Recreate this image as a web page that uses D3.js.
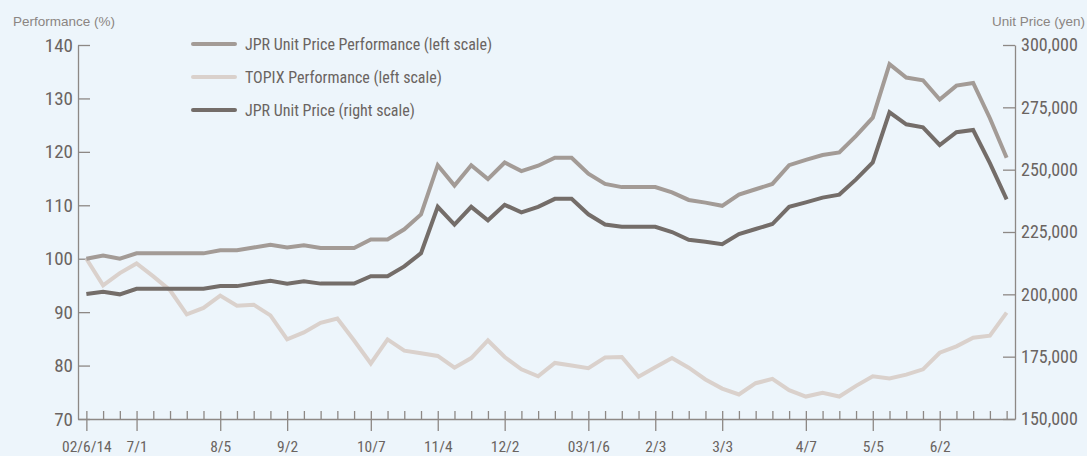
<!DOCTYPE html>
<html>
<head>
<meta charset="utf-8">
<title>JPR Unit Price Performance</title>
<script src="https://d3js.org/d3.v7.min.js"></script>
<style>
  body { margin: 0; background: #edf5fb; }
  svg { display: block; background: #edf5fb; }
  .narrow { font-family: "Liberation Sans Narrow", "Roboto Condensed", "DejaVu Sans Condensed", sans-serif; }
  .title { font-family: "Liberation Sans", Arial, sans-serif; font-size: 13.5px; fill: #8b8582; }
</style>
</head>
<body>
<svg id="chart"></svg>
<script>
// weekly points, 02/6/14 .. 03/7/5 (index = week number)
var tickLabels = ["02/6/14", "7/1", "8/5", "9/2", "10/7", "11/4", "12/2", "03/1/6", "2/3", "3/3", "4/7", "5/5", "6/2"];
var tickWeeks  = [0, 3, 8, 12, 17, 21, 25, 30, 34, 38, 43, 47, 51];

var jprPerf = [100, 100.6, 100, 101, 101, 101, 101, 101, 101.6, 101.6,
  102.1, 102.6, 102.1, 102.5, 102, 102, 102, 103.6, 103.6, 105.5,
  108.3, 117.5, 113.7, 117.5, 114.9, 118, 116.4, 117.4, 118.9, 118.9,
  115.9, 114, 113.4, 113.4, 113.4, 112.4, 111, 110.5, 109.9, 112,
  113, 114, 117.5, 118.5, 119.4, 119.9, 123, 126.4, 136.4, 133.9,
  133.4, 129.8, 132.4, 132.9, 126.3, 118.9];

var topixPerf = [100, 95, 97.3, 99.1, 96.7, 94.1, 89.6, 90.8, 93.1, 91.2,
  91.4, 89.4, 84.9, 86.2, 88, 88.8, 84.7, 80.4, 84.9, 82.8,
  82.3, 81.8, 79.6, 81.4, 84.7, 81.6, 79.3, 78, 80.5, 80,
  79.5, 81.5, 81.6, 77.9, 79.7, 81.4, 79.6, 77.4, 75.7, 74.6,
  76.7, 77.5, 75.4, 74.2, 74.9, 74.2, 76.2, 78, 77.6, 78.3,
  79.3, 82.4, 83.6, 85.2, 85.6, 89.9];

var unitPrice = [200100, 201000, 200000, 202200, 202200, 202200, 202200, 202200, 203300, 203300,
  204400, 205400, 204300, 205200, 204300, 204300, 204300, 207300, 207300, 211200,
  216500, 235100, 228000, 235100, 229700, 235900, 232900, 235100, 238300, 238300,
  232100, 228000, 227100, 227100, 227100, 225000, 221900, 221100, 220100, 224200,
  226200, 228200, 235100, 236900, 238800, 240000, 246100, 252900, 273000, 268200,
  267000, 259900, 265000, 265900, 252600, 238100];

var leftTicks = [70, 80, 90, 100, 110, 120, 130, 140];
var rightTicks = [150000, 175000, 200000, 225000, 250000, 275000, 300000];

var seriesNames = ["JPR Unit Price Performance (left scale)", "TOPIX Performance (left scale)", "JPR Unit Price (right scale)"];
var seriesColors = ["#a39b96", "#dad1cc", "#746d69"];

var width = 1087, height = 456;
var plotLeft = 78, plotRight = 1015, plotTop = 45, plotBottom = 419;
var axisColor = "#8d8885", textColor = "#6a6461";

var svg = d3.select("#chart").attr("width", width).attr("height", height);

var x = d3.scaleLinear().domain([-0.5, 55.5]).range([plotLeft, plotRight]);
var yL = d3.scaleLinear().domain([70, 140]).range([plotBottom, plotTop]);
var yR = d3.scaleLinear().domain([150000, 300000]).range([plotBottom, plotTop]);

// axis titles
svg.append("text").attr("class", "title").attr("x", 13).attr("y", 26).text("Performance (%)");
svg.append("text").attr("class", "title").attr("x", 1085).attr("y", 26)
  .attr("text-anchor", "end").text("Unit Price (yen)");

function styleAxis(g) {
  g.selectAll("path, line").attr("stroke", axisColor).attr("stroke-width", 1.3);
  g.selectAll("text").attr("fill", textColor).attr("class", "narrow");
}

// left axis, ticks pointing inward
var gL = svg.append("g").attr("transform", "translate(" + plotLeft + ",0)")
  .call(d3.axisLeft(yL).tickValues(leftTicks).tickSizeInner(-12).tickSizeOuter(0).tickPadding(5));
gL.call(styleAxis);
gL.selectAll("text").style("font-size", "19px");

// right axis
var gR = svg.append("g").attr("transform", "translate(" + plotRight + ",0)")
  .call(d3.axisRight(yR).tickValues(rightTicks).tickSizeInner(-12).tickSizeOuter(0).tickPadding(6)
    .tickFormat(d3.format(",")));
gR.call(styleAxis);
gR.selectAll("text").style("font-size", "18px");

// bottom axis: minor weekly ticks pointing up
var minorWeeks = d3.range(0, 56).filter(function(i) { return tickWeeks.indexOf(i) < 0; });
var gMinor = svg.append("g").attr("transform", "translate(0," + plotBottom + ")")
  .call(d3.axisBottom(x).tickValues(minorWeeks).tickSizeInner(-8).tickSizeOuter(0).tickFormat(""));
gMinor.call(styleAxis);

// major ticks cross the axis
var gMajor = svg.append("g").attr("transform", "translate(0," + plotBottom + ")")
  .call(d3.axisBottom(x).tickValues(tickWeeks).tickSizeInner(12).tickSizeOuter(0)
    .tickFormat(function(d, i) { return tickLabels[i]; }));
gMajor.call(styleAxis);
gMajor.select(".domain").remove();
gMajor.selectAll(".tick line").attr("y1", -8);
gMajor.selectAll(".tick text").attr("y", 33).attr("dy", 0).style("font-size", "15.5px");

// lines
var lineL = d3.line().x(function(d, i) { return x(i); }).y(function(d) { return yL(d); });
var lineR = d3.line().x(function(d, i) { return x(i); }).y(function(d) { return yR(d); });

var plots = [
  { data: topixPerf, line: lineL, color: seriesColors[1] },
  { data: jprPerf, line: lineL, color: seriesColors[0] },
  { data: unitPrice, line: lineR, color: seriesColors[2] }
];
plots.forEach(function(p) {
  svg.append("path")
    .datum(p.data)
    .attr("d", p.line)
    .attr("fill", "none")
    .attr("stroke", p.color)
    .attr("stroke-width", 4)
    .attr("stroke-linejoin", "miter")
    .attr("stroke-linecap", "butt");
});

// legend
var legend = svg.append("g").selectAll("g")
  .data(seriesNames)
  .enter().append("g")
  .attr("transform", function(d, i) { return "translate(193," + (44 + i * 33) + ")"; });
legend.append("line")
  .attr("x1", 0).attr("x2", 42)
  .attr("stroke", function(d, i) { return seriesColors[i]; })
  .attr("stroke-width", 4)
  .attr("stroke-linecap", "round");
legend.append("text")
  .attr("class", "narrow")
  .attr("x", 52).attr("y", 6)
  .attr("fill", textColor)
  .style("font-size", "16px")
  .text(function(d) { return d; });
</script>
</body>
</html>
